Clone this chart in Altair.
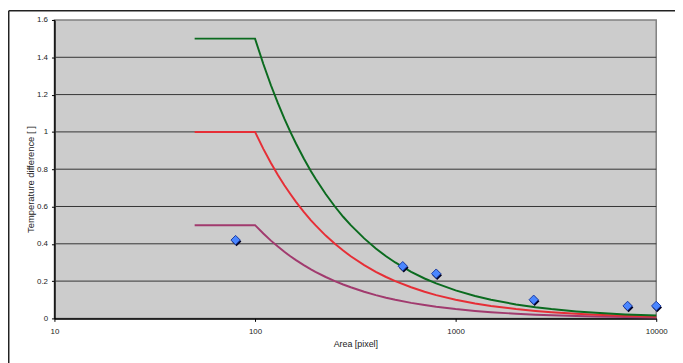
import altair as alt
import pandas as pd

# Curve sample points
area = [50, 100, 110, 120, 130, 140, 150, 160, 175, 190, 200, 225, 250, 275, 300,
        350, 400, 450, 500, 600, 700, 800, 1000, 1250, 1500, 2000, 2500, 3000,
        4000, 5000, 7000, 10000]
green = [1.5, 1.5, 1.364, 1.25, 1.154, 1.071, 1.0, 0.938, 0.857, 0.789, 0.75,
         0.667, 0.6, 0.545, 0.5, 0.429, 0.375, 0.333, 0.3, 0.25, 0.214, 0.1875,
         0.15, 0.12, 0.1, 0.075, 0.06, 0.05, 0.0375, 0.03, 0.0214, 0.015]
red = [1.0, 1.0, 0.909, 0.833, 0.769, 0.714, 0.667, 0.625, 0.571, 0.526, 0.5,
       0.444, 0.4, 0.364, 0.333, 0.286, 0.25, 0.222, 0.2, 0.167, 0.143, 0.125,
       0.1, 0.08, 0.0667, 0.05, 0.04, 0.0333, 0.025, 0.02, 0.0143, 0.01]
purple = [0.5, 0.5, 0.455, 0.417, 0.385, 0.357, 0.333, 0.3125, 0.286, 0.263, 0.25,
          0.222, 0.2, 0.182, 0.167, 0.143, 0.125, 0.111, 0.1, 0.0833, 0.0714,
          0.0625, 0.05, 0.04, 0.0333, 0.025, 0.02, 0.0167, 0.0125, 0.01, 0.0071,
          0.005]

# Measured points (diamonds)
pt_x = [80, 545, 800, 2450, 7200, 10000]
pt_y = [0.42, 0.28, 0.24, 0.10, 0.067, 0.067]

grid_vals = [0.2, 0.4, 0.6, 0.8, 1.0, 1.2, 1.4]
y_ticks = [0, 0.2, 0.4, 0.6, 0.8, 1.0, 1.2, 1.4, 1.6]
x_ticks = [10, 100, 1000, 10000]

FONT = "Liberation Sans"

curves = pd.DataFrame({"area": area, "green": green, "red": red, "purple": purple})
pts = pd.DataFrame({"area": pt_x, "temp": pt_y})
grid = pd.DataFrame({"g": grid_vals})
dummy = pd.DataFrame({"a": [0]})

xscale = alt.Scale(type="log", domain=[10, 10000])
yscale = alt.Scale(domain=[0, 1.6])

x_axis = alt.Axis(values=x_ticks, format="d", labelFont=FONT, labelFontSize=8,
                  labelColor="#222222", tickSize=3, tickColor="black",
                  domainColor="black", domainWidth=1.5, labelPadding=6,
                  labelFlush=False, grid=False, title="Area [pixel]",
                  titleFont=FONT, titleFontSize=9, titleFontWeight="normal",
                  titleColor="#222222", titleY=21, titleBaseline="top")
y_axis = alt.Axis(values=y_ticks, format="~g", labelFont=FONT, labelFontSize=8,
                  labelColor="#222222", tickSize=3, tickColor="black",
                  domainColor="black", domainWidth=1.5, labelPadding=4,
                  grid=False, title="Temperature difference [   ]",
                  titleFont=FONT, titleFontSize=9.5, titleFontWeight="normal",
                  titleColor="#222222", titleX=-29, titleY=161,
                  titleAlign="center", titleBaseline="top", titleAngle=270)

grid_layer = alt.Chart(grid).mark_rule(color="#333333", strokeWidth=1).encode(
    y=alt.Y("g:Q", scale=yscale, axis=y_axis)
)

def curve(col, color):
    return alt.Chart(curves).mark_line(color=color, strokeWidth=2).encode(
        x=alt.X("area:Q", scale=xscale, axis=x_axis),
        y=alt.Y(f"{col}:Q", scale=yscale, axis=y_axis),
    )

shadow = alt.Chart(pts).mark_point(shape="diamond", filled=True, size=95,
                                   color="#000022", opacity=1,
                                   xOffset=1, yOffset=1.5).encode(
    x=alt.X("area:Q", scale=xscale, axis=x_axis),
    y=alt.Y("temp:Q", scale=yscale, axis=y_axis),
)

points = alt.Chart(pts).mark_point(shape="diamond", filled=True, size=90,
                                   fill="#4a86ff", stroke="#1a3aa0",
                                   strokeWidth=1, opacity=1).encode(
    x=alt.X("area:Q", scale=xscale, axis=x_axis),
    y=alt.Y("temp:Q", scale=yscale, axis=y_axis),
)

border_left = alt.Chart(dummy).mark_rule(color="#222222", strokeWidth=1.5).encode(
    x=alt.value(-46.25), y=alt.value(-9.25), y2=alt.value(400)
)
border_top = alt.Chart(dummy).mark_rule(color="#222222", strokeWidth=1.5).encode(
    y=alt.value(-9.25), x=alt.value(-46.25), x2=alt.value(700)
)

chart = alt.layer(
    grid_layer, curve("purple", "#a13a6e"), curve("red", "#e62e36"),
    curve("green", "#0b6b1f"), shadow, points, border_left, border_top
).properties(
    width=609, height=302,
    padding={"left": 47, "top": 10, "right": 19, "bottom": 43},
    autosize=alt.AutoSizeParams(type="none"),
    background="white",
).configure_view(
    fill="#cccccc", stroke="#808080", strokeWidth=1.5
)

chart.save("out.html", embed_options={"renderer": "svg", "actions": False})
